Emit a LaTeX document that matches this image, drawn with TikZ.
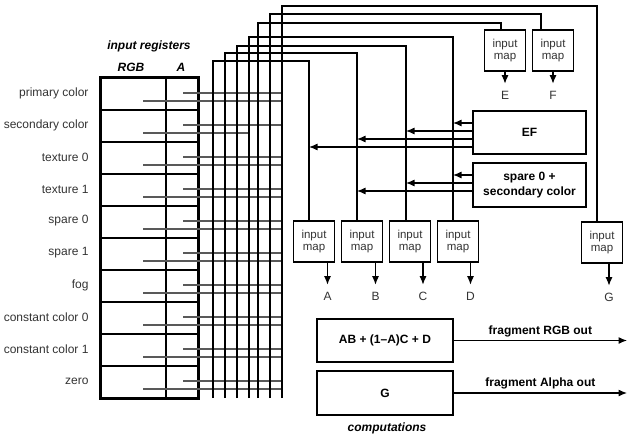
\documentclass[tikz,border=0pt]{standalone}
\usepackage{fontspec}
\setmainfont{Liberation Sans}
\usetikzlibrary{arrows.meta,positioning}

\begin{document}
\begin{tikzpicture}[x=1pt, y=-1pt,
  font=\fontsize{12}{14}\selectfont,
  cell/.style={rectangle, draw, line width=1.6pt, minimum height=32pt, inner sep=0pt},
  reglabel/.style={anchor=east, text=black!80},
  head/.style={font=\fontsize{12}{14}\selectfont\bfseries\itshape},
  wire/.style={line width=1.2pt, black!65},
  bus/.style={line width=1.2pt},
  mapbox/.style={rectangle, draw, line width=1.4pt, minimum width=41pt, minimum height=41pt, inner sep=0pt, align=center, font=\fontsize{11.5}{12}\selectfont, text=black!80},
  opbox/.style={rectangle, draw, line width=1.4pt, minimum width=113pt, minimum height=43pt, align=center, font=\fontsize{12}{15}\selectfont\bfseries},
  varlabel/.style={text=black!80},
  outlabel/.style={font=\fontsize{12}{14}\selectfont\bfseries},
  arrow/.style={-{Latex[length=8.5pt,width=7pt]}, line width=1.2pt}
]
  \useasboundingbox (0,0) rectangle (631,438);

  % input registers
  \node[head] (inreg) at (149,46) {input registers};
  \node[head] (rgbhead) at (131,67) {RGB};
  \node[head] (ahead) at (181,67) {A};
  \foreach \name [count=\i from 0] in {primary color, secondary color, texture 0, texture 1, spare 0, spare 1, fog, constant color 0, constant color 1, zero} {
    \node[cell, minimum width=65pt] (rgb\i) at (133.5,94+32*\i) {};
    \node[cell, minimum width=32pt] (a\i) at (182,94+32*\i) {};
    \node[reglabel] (lab\i) at (92,93+32*\i) {\name};
  }
  \draw[line width=2.4pt] (rgb0.north west) rectangle (a9.south east);

  % input maps
  \node[mapbox] (mapA) at (314,241.5) {input\\map};
  \node[mapbox] (mapB) at (362,241.5) {input\\map};
  \node[mapbox] (mapC) at (410,241.5) {input\\map};
  \node[mapbox] (mapD) at (458,241.5) {input\\map};
  \node[mapbox] (mapE) at (505,50.5) {input\\map};
  \node[mapbox] (mapF) at (553,50.5) {input\\map};
  \node[mapbox] (mapG) at (602,242.5) {input\\map};

  \foreach \col/\dx/\len in {A/13.5/22, B/13.5/22, C/13/22, D/12.5/22, E/0/12, F/0/12, G/7/22} {
    \draw[arrow] ([xshift=\dx pt]map\col.south) -- ++(0,\len) coordinate (tip\col);
    \node[varlabel, below=4pt of tip\col] (var\col) {\col};
  }

  % bus lines
  \foreach \col/\bx/\by/\mx in {A/213/61/309, B/225/53/357, C/237/46/406, D/249/37/453, E/258/23/501, F/270/14/541, G/282/6/597} {
    \coordinate (bus\col) at (\bx,398);
    \coordinate (in\col) at (\mx,\by);
  }

  % register outputs onto the bus
  \foreach \i/\stop in {0/G, 1/D, 2/G, 3/G, 4/G, 5/G, 6/G, 7/G, 8/G, 9/G} {
    \coordinate (wa\i) at ([xshift=1pt, yshift=1pt]a\i.center);
    \coordinate (wrgb\i) at ([xshift=9.5pt, yshift=-7pt]rgb\i.center);
    \draw[wire] (wa\i) -- (wa\i -| busG);
    \draw[wire] (wrgb\i) -- (wrgb\i -| bus\stop);
  }

  \foreach \col in {A, B, C, D, E, F, G}
    \draw[bus] (bus\col) |- (in\col) -- (in\col |- map\col.north);

  % combiner stages
  \node[opbox] (ef) at (529.5,132.5) {EF};
  \node[opbox, minimum height=44pt] (spare) at (529.5,185) {spare 0 +\\secondary color};

  \foreach \col/\dy in {D/9.5, C/1.5, B/-6.5, A/-14.5} {
    \coordinate (ef\col) at ([yshift=\dy pt]ef.west);
    \draw[arrow] (ef\col) -- (ef\col -| in\col);
  }
  \foreach \col/\dy in {D/10, C/2, B/-6} {
    \coordinate (sp\col) at ([yshift=\dy pt]spare.west);
    \draw[arrow] (sp\col) -- (sp\col -| in\col);
  }

  % computations
  \node[opbox, minimum width=136pt] (rgbcalc) at (385,340.5) {AB + (1–A)C + D};
  \node[opbox, minimum width=136pt, minimum height=44pt] (alphacalc) at (385,393) {G};
  \node[head] (comp) at (387,428) {computations};

  \coordinate (outend) at (627,0);
  \draw[arrow] (rgbcalc.east) -- (rgbcalc.east -| outend) node[midway, above, outlabel] {fragment RGB out};
  \draw[arrow] (alphacalc.east) -- (alphacalc.east -| outend) node[midway, above, outlabel] {fragment Alpha out};
\end{tikzpicture}
\end{document}
